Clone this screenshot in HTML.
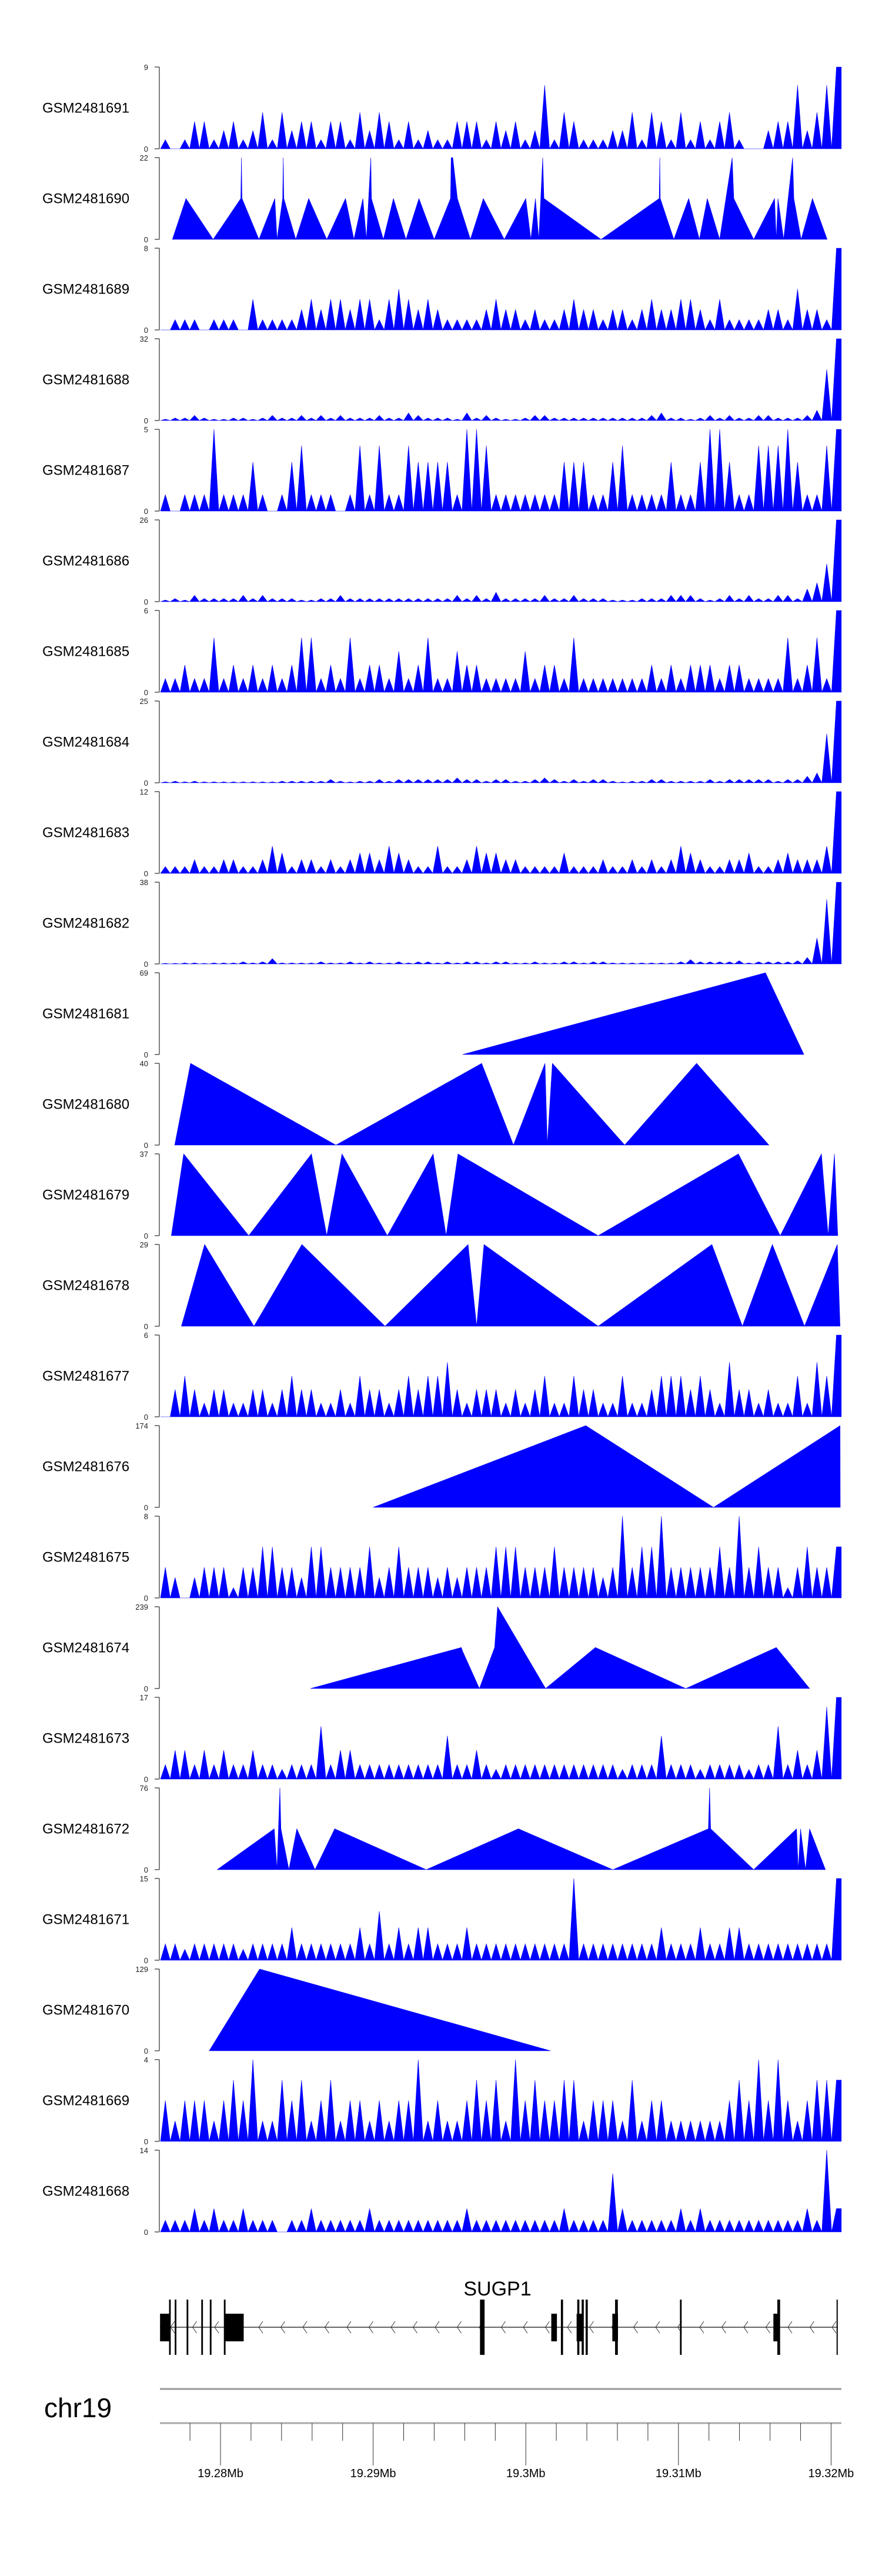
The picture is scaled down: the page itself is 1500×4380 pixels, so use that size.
<!DOCTYPE html>
<html><head><meta charset="utf-8"><style>
html,body{margin:0;padding:0;background:#fff;}
svg{display:block;font-family:"Liberation Sans",sans-serif;}
</style></head><body>
<svg id="chart" width="1500" height="4380" viewBox="0 0 1500 4380" xmlns="http://www.w3.org/2000/svg"></svg>
<script>
// ---- data ----
const sampleNames=["GSM2481691","GSM2481690","GSM2481689","GSM2481688","GSM2481687","GSM2481686","GSM2481685","GSM2481684","GSM2481683","GSM2481682","GSM2481681","GSM2481680","GSM2481679","GSM2481678","GSM2481677","GSM2481676","GSM2481675","GSM2481674","GSM2481673","GSM2481672","GSM2481671","GSM2481670","GSM2481669","GSM2481668"];
const axisMax=[9,22,8,32,5,26,6,25,12,38,69,40,37,29,6,174,8,239,17,76,15,129,4,14];
// dense tracks: binned coverage (70 bins across region)
const bins1691=[1,0,1,3,3,1,2,3,1,2,4,1,4,2,3,3,1,3,3,1,4,2,4,3,1,3,1,2,1,1,3,3,3,1,3,2,3,1,2,7,1,4,3,1,1,1,2,2,4,1,4,3,1,4,1,3,1,3,4,1,0,0,2,3,3,7,2,4,7,9];
const bins1689=[0,1,1,1,0,1,1,1,0,3,1,1,1,1,2,3,2,3,3,2,3,3,1,3,4,3,2,3,2,1,1,1,1,2,3,2,2,1,2,1,1,2,3,2,2,1,2,2,1,2,3,2,2,3,3,2,1,3,1,1,1,1,2,2,1,4,2,2,1,8];
const bins1688=[0.5,1,1,2,1,0.5,0.5,1,1,0.5,1,2,1,1,2,1,2,1,2,1,1,1,2,1,1,3,2,1,1,1,0.5,3,1,2,1,0.5,0.5,1,2,2,1,1,1,1,1,1,1,1,1,1,2,3,1,1,0.5,1,2,1,2,1,1,2,2,1,1,1,2,4,20,32];
const bins1687=[1,0,1,1,1,5,1,1,1,3,1,0,1,3,4,1,1,1,0,1,4,1,4,1,1,4,3,3,3,3,1,5,5,4,1,1,1,1,1,1,1,3,3,3,1,1,3,4,1,1,1,1,3,1,1,3,5,5,3,1,1,4,4,4,5,3,1,1,4,5];
const bins1686=[0.5,1,0.5,2,1,1,1,1,2,1,2,1,1,1,0.5,0.5,1,1,2,1,1,1,1,1,1,1,1,1,1,1,2,1,2,1,3,1,1,1,1,2,1,1,2,1,1,1,0.5,0.5,0.5,1,1,1,2,2,2,1,0.5,1,2,1,2,1,1,2,2,1,4,6,12,26];
const bins1685=[1,1,2,1,1,4,1,2,1,2,1,2,1,2,4,4,1,2,1,4,1,2,2,1,3,1,2,4,1,1,3,2,2,1,1,1,1,3,1,2,2,1,4,1,1,1,1,1,1,1,2,1,2,1,2,2,2,1,2,2,1,1,1,1,4,1,2,4,1,6];
const bins1684=[0.3,0.5,0.3,0.5,0.3,0.3,0.3,0.3,0.3,0.3,0.3,0.3,0.5,0.5,0.5,0.5,0.5,1,0.5,0.3,0.5,0.5,1,0.5,1,1,1,1,1,1,1.5,1,1,0.5,1,1,0.5,0.5,1,1.5,1,0.5,1,0.5,1,1,0.5,0.3,0.5,0.5,1,1,0.5,0.5,0.5,0.5,1,0.5,1,1,1,1,1,0.5,1,1,2,3,15,25];
const bins1683=[1,1,1,2,1,1,2,2,1,1,2,4,3,1,2,2,1,2,1,2,3,3,2,4,3,2,1,1,4,1,1,2,4,3,3,2,2,1,1,1,1,3,1,1,1,2,1,1,2,1,2,1,2,4,3,2,1,1,2,2,3,1,1,2,3,2,2,2,4,12];
const bins1682=[0.3,0.3,0.5,0.5,0.3,0.5,0.5,0.5,1,0.5,1,2.5,0.5,0.5,0.5,0.5,1,0.5,0.5,1,0.5,1,0.5,0.5,1,0.5,1,1,0.5,1,0.5,1,1,0.5,1,1,0.5,0.5,1,0.5,0.5,1,1,0.5,1,1,0.5,0.5,0.5,0.5,0.5,0.5,0.5,1,2,1,1,1,1,1.5,0.5,1,1,1,1,1.5,3,12,30,38];
const bins1677=[0,2,3,2,1,2,2,1,1,2,2,1,2,3,2,2,1,1,2,1,3,2,2,1,2,3,2,3,3,4,2,1,2,2,2,1,2,1,2,3,1,1,3,2,2,1,1,3,1,1,2,3,3,3,2,3,2,1,4,2,2,1,2,1,1,3,1,4,3,6];
const bins1675=[3,2,0,2,3,3,3,1,3,3,5,5,3,3,2,5,5,3,3,3,3,5,2,3,5,3,3,3,2,3,2,3,3,3,5,5,5,3,3,3,5,3,3,3,3,2,3,8,3,5,5,8,3,3,3,3,3,5,3,8,3,5,3,3,1,3,5,3,3,5];
const bins1673=[3,6,6,3,6,3,6,3,3,6,3,3,2,3,3,3,11,3,6,6,3,3,3,3,3,3,3,3,3,9,3,3,6,3,2,3,3,3,3,3,3,3,3,3,3,3,3,2,3,3,3,9,3,3,3,2,3,3,3,3,2,3,3,11,3,6,3,6,15,17];
const bins1671=[3,3,2,3,3,3,3,3,2,3,3,3,3,6,3,3,3,3,3,3,6,3,9,3,6,3,6,6,3,3,3,6,3,3,3,3,3,3,3,3,3,3,15,3,3,3,3,3,3,3,3,6,3,3,3,6,3,3,6,6,3,3,3,3,3,3,3,3,3,15];
const bins1669=[2,1,2,2,2,1,2,3,2,4,1,1,3,2,3,1,2,3,1,2,2,1,2,1,2,2,4,1,2,1,1,2,3,2,3,1,4,2,3,2,2,3,3,1,2,2,2,1,3,1,2,2,1,1,1,1,1,1,2,3,2,4,2,4,2,1,2,3,3,3];
const bins1668=[2,2,2,4,2,4,2,2,4,2,2,2,0,2,2,4,2,2,2,2,2,4,2,2,2,2,2,2,2,2,2,4,2,2,2,2,2,2,2,2,2,4,2,2,2,2,10,4,2,2,2,2,2,4,2,4,2,2,2,2,2,2,2,2,2,2,4,2,14,4];
// sparse tracks: [kb offset from 19.27Mb, coverage]
const pts1690=[[6.85,0],[7.74,11],[9.52,0],[11.33,11],[11.37,22],[11.41,11],[12.52,0],[13.56,11],[13.70,0],[14.07,11],[14.11,22],[14.15,11],[14.93,0],[15.78,11],[16.96,0],[18.19,11],[18.74,0],[19.33,11],[19.56,0],[19.85,22],[19.89,11],[20.67,0],[21.33,11],[22.15,0],[23.0,11],[24.0,0],[25.07,11],[25.11,22],[25.22,22],[25.52,11],[26.37,0],[27.22,11],[28.59,0],[30.0,11],[30.33,0],[30.63,11],[30.85,0],[31.11,22],[31.19,11],[34.93,0],[38.74,11],[38.78,22],[38.81,11],[39.70,0],[40.67,11],[41.37,0],[41.89,11],[42.70,0],[43.52,22],[43.63,11],[44.93,0],[46.30,11],[46.41,0],[46.52,11],[46.89,0],[47.48,22],[47.56,11],[48.04,0],[48.78,11],[49.74,0]];
const pts1681=[[25.85,0],[45.7,69],[48.22,0]];
const pts1680=[[7.0,0],[8.04,40],[17.56,0],[27.11,40],[29.19,0],[31.26,40],[31.41,0],[31.74,40],[36.48,0],[41.19,40],[45.93,0]];
const pts1679=[[6.78,0],[7.59,37],[11.85,0],[15.96,37],[16.96,0],[17.96,37],[20.93,0],[23.93,37],[24.78,0],[25.56,37],[34.74,0],[43.93,37],[46.67,0],[49.37,37],[49.81,0],[50.22,37],[50.44,0]];
const pts1678=[[7.44,0],[8.96,29],[12.19,0],[15.33,29],[20.78,0],[26.22,29],[26.78,0],[27.26,29],[34.74,0],[42.19,29],[44.19,0],[46.15,29],[48.26,0],[50.41,29],[50.59,0]];
const pts1676=[[20.0,0],[33.93,174],[42.3,0],[50.59,174],[50.6,0]];
const pts1674=[[15.89,0],[25.78,120],[25.85,110],[26.96,0],[27.96,120],[28.15,239],[31.3,0],[34.56,120],[40.48,0],[46.41,120],[48.59,0]];
const pts1672=[[9.78,0],[13.52,38],[13.7,0],[13.89,76],[13.96,38],[14.48,0],[15.0,38],[16.19,0],[17.48,38],[23.48,0],[29.52,38],[35.7,0],[41.96,38],[42.04,76],[42.11,38],[44.93,0],[47.74,38],[47.85,0],[48.0,38],[48.33,0],[48.59,38],[49.63,0]];
const pts1670=[[9.26,0],[12.56,129],[31.63,0]];
const trackSeries=[bins1691,pts1690,bins1689,bins1688,bins1687,bins1686,bins1685,bins1684,bins1683,bins1682,pts1681,pts1680,pts1679,pts1678,bins1677,pts1676,bins1675,pts1674,bins1673,pts1672,bins1671,pts1670,bins1669,bins1668];
// gene model (kb offsets)
const exonTall=[[6.63,6.74],[7.0,7.11],[7.78,7.89],[8.74,8.85],[9.3,9.41],[10.22,10.33],[27.0,27.3],[32.3,32.44],[33.37,33.51],[33.66,33.8],[33.92,34.06],[35.85,36.03],[40.1,40.21],[46.48,46.66],[50.36,50.43]];
const exonMid=[[6.04,6.67],[10.26,11.52],[31.67,32.04],[33.33,33.7],[35.67,36.04],[46.22,46.59]];
const axisTicksMb=["19.28Mb","19.29Mb","19.3Mb","19.31Mb","19.32Mb"];
const majorTickKb=[10,20,30,40,50];

// ---- scales ----
const NS="http://www.w3.org/2000/svg";
const svg=document.getElementById('chart');
const kbStart=6.07, kbEnd=50.67;
function X(kb){return 375+(kb-10)*25.96;}
const TOP0=114, PITCH=154, H=139;
function mk(tag,attrs,parent){const e=document.createElementNS(NS,tag);for(const k in attrs)e.setAttribute(k,attrs[k]);(parent||svg).appendChild(e);return e;}

trackSeries.forEach((series,i)=>{
  const top=TOP0+PITCH*i, zero=top+H, max=axisMax[i];
  const g=mk('g',{});
  
  
  const Y=v=>zero-(v/max)*H;
  const lab=mk('text',{x:72,y:(top+zero)/2+8,'font-size':24,fill:'#000'},g);
  lab.textContent=sampleNames[i];
  
  
  const ax=mk('path',{d:`M271 ${top}V${zero}M263 ${top}H271M263 ${zero}H271`,stroke:'#555','stroke-width':1.5,fill:'none'},g);
  
  
  const tMax=mk('text',{x:252,y:top+5,'font-size':13,'text-anchor':'end',fill:'#222'},g);
  tMax.textContent=max;
  
  
  const t0=mk('text',{x:252,y:zero+5,'font-size':13,'text-anchor':'end',fill:'#222'},g);
  t0.textContent='0';
  
  
  let d='';
  if(Array.isArray(series[0])){
    d=`M${X(series[0][0]).toFixed(1)} ${zero}`;
    series.forEach(p=>{d+=`L${X(p[0]).toFixed(1)} ${Y(p[1]).toFixed(1)}`;});
    d+=`L${X(series[series.length-1][0]).toFixed(1)} ${zero}Z`;
  }else{
    const step=(kbEnd-kbStart)/series.length;
    d=`M${X(kbStart).toFixed(1)} ${zero}`;
    series.forEach((v,j)=>{
      const c=kbStart+(j+0.5)*step, e=kbStart+(j+1)*step;
      d+=`L${X(c).toFixed(1)} ${Y(v).toFixed(1)}`;
      d+= j===series.length-1 ? `L${X(e).toFixed(1)} ${Y(v).toFixed(1)}` : `L${X(e).toFixed(1)} ${zero}`;
    });
    d+=`L${X(kbEnd).toFixed(1)} ${zero}Z`;
  }
  const area=mk('path',{d:d,fill:'#0000ff',stroke:'#0000ff','stroke-width':0.6},g);
  
  
});

// ---- gene track ----
const gg=mk('g',{});


const gname=mk('text',{x:846,y:3903,'font-size':34,'text-anchor':'middle',fill:'#000'},gg);
gname.textContent='SUGP1';


const intron=mk('line',{x1:272,y1:3957,x2:1425,y2:3957,stroke:'#333','stroke-width':1.5},gg);


let chev='';
for(let x=290;x<1420;x+=37.5){chev+=`M${x+7} 3947L${x} 3957L${x+7} 3967`;}
const ch=mk('path',{d:chev,stroke:'#333','stroke-width':1,fill:'none'},gg);


exonTall.forEach(e=>{
  const r=mk('rect',{x:X(e[0]),y:3910,width:Math.max(2,X(e[1])-X(e[0])),height:94,fill:'#000'},gg);
  
  
});
exonMid.forEach(e=>{
  const r=mk('rect',{x:X(e[0]),y:3934,width:X(e[1])-X(e[0]),height:47,fill:'#000'},gg);
  
  
});

// ---- genome axis ----
const ag=mk('g',{});


const chr=mk('text',{x:75,y:4110,'font-size':46,fill:'#000'},ag);
chr.textContent='chr19';


const l1=mk('line',{x1:272,y1:4062,x2:1431,y2:4062,stroke:'#999','stroke-width':3},ag);


const l2=mk('line',{x1:272,y1:4120,x2:1431,y2:4120,stroke:'#aaa','stroke-width':3},ag);


let tk='';
for(let kb=8;kb<=50.5;kb+=2){tk+=`M${X(kb).toFixed(1)} 4120V4150`;}
majorTickKb.forEach(kb=>{tk+=`M${X(kb).toFixed(1)} 4120V4192`;});
const tks=mk('path',{d:tk,stroke:'#333','stroke-width':1,fill:'none'},ag);


axisTicksMb.forEach((s,k)=>{
  const t=mk('text',{x:X(majorTickKb[k]),y:4212,'font-size':20,'text-anchor':'middle',fill:'#000'},ag);
  t.textContent=s;
  
  
});
</script>
</body></html>
